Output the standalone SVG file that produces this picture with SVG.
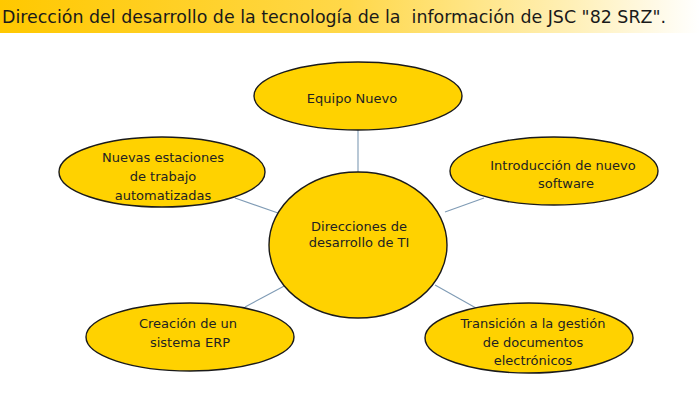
<svg xmlns="http://www.w3.org/2000/svg" width="700" height="410" viewBox="0 0 700 410">
<defs>
<linearGradient id="bar" x1="0" y1="0" x2="1" y2="0">
<stop offset="0" stop-color="#FFC800"/>
<stop offset="0.5" stop-color="#FFD84A"/>
<stop offset="0.82" stop-color="#FFF0B8"/>
<stop offset="1" stop-color="#FFFFFF"/>
</linearGradient>
</defs>
<style>
.node ellipse{fill:#FFD200;stroke:#1a1a1a;stroke-width:1.4}
.node text{font-family:"DejaVu Sans",sans-serif;font-size:13px;fill:#222;text-anchor:middle}
.conn line{stroke:#7f9bb5;stroke-width:1.1}
.title{font-family:"DejaVu Sans",sans-serif;font-size:18px;fill:#1a1a1a;white-space:pre}
</style>
<rect width="700" height="410" fill="#fff"/>
<rect x="0" y="0" width="700" height="33" fill="url(#bar)"/>
<text class="title" xml:space="preserve" x="2" y="23" textLength="664" lengthAdjust="spacingAndGlyphs">Dirección del desarrollo de la tecnología de la  información de JSC "82 SRZ".</text>
<g id="connectors" class="conn">
<line x1="358" y1="130" x2="358" y2="173"/>
<line x1="235" y1="198" x2="278" y2="213"/>
<line x1="445" y1="212" x2="484" y2="198"/>
<line x1="245" y1="307" x2="288" y2="284"/>
<line x1="435" y1="285" x2="476" y2="308"/>
</g>
<g id="center" class="node">
<ellipse cx="358" cy="245" rx="89" ry="73"/>
<text x="359" y="231">Direcciones de</text>
<text x="359" y="247">desarrollo de TI</text>
</g>
<g id="equipo" class="node">
<ellipse cx="358" cy="96" rx="104" ry="34"/>
<text x="352" y="103">Equipo Nuevo</text>
</g>
<g id="estaciones" class="node">
<ellipse cx="162" cy="172" rx="103" ry="35"/>
<text x="163" y="162">Nuevas estaciones</text>
<text x="163" y="181">de trabajo</text>
<text x="163" y="200">automatizadas</text>
</g>
<g id="software" class="node">
<ellipse cx="554" cy="171" rx="104" ry="34"/>
<text x="563" y="170">Introducción de nuevo</text>
<text x="566" y="188">software</text>
</g>
<g id="erp" class="node">
<ellipse cx="190" cy="337" rx="104" ry="34"/>
<text x="188" y="328">Creación de un</text>
<text x="190" y="347">sistema ERP</text>
</g>
<g id="documentos" class="node">
<ellipse cx="529" cy="338" rx="104" ry="35"/>
<text x="533" y="328">Transición a la gestión</text>
<text x="533" y="347">de documentos</text>
<text x="533" y="365">electrónicos</text>
</g>
</svg>
